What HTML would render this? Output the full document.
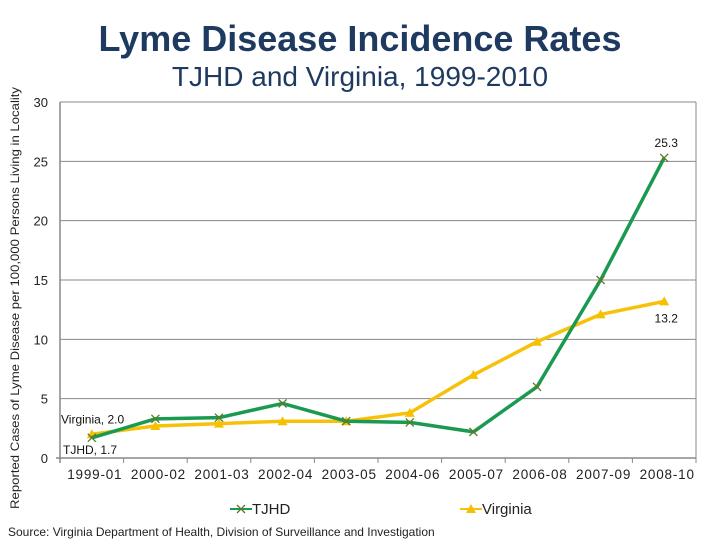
<!DOCTYPE html>
<html><head><meta charset="utf-8"><style>
body{margin:0;background:#fff;width:720px;height:540px;overflow:hidden}
text{font-family:"Liberation Sans",sans-serif}
</style></head><body>
<svg id="chart" width="720" height="540" xmlns="http://www.w3.org/2000/svg">
<text x="360" y="51" text-anchor="middle" font-size="36" font-weight="bold" fill="#1f3a60">Lyme Disease Incidence Rates</text>
<text x="360" y="86" text-anchor="middle" font-size="28" fill="#1f3a60">TJHD and Virginia, 1999-2010</text>
<text transform="translate(19,298) rotate(-90)" text-anchor="middle" font-size="12" textLength="422" lengthAdjust="spacingAndGlyphs" fill="#222">Reported Cases of Lyme Disease per 100,000 Persons Living in Locality</text>
<text x="8" y="536" font-size="12" fill="#222">Source: Virginia Department of Health, Division of Surveillance and Investigation</text>
<g id="grid"></g><g id="axes"></g><g id="series"></g><g id="legend"></g>
</svg>
<script>
const categories=["1999-01","2000-02","2001-03","2002-04","2003-05","2004-06","2005-07","2006-08","2007-09","2008-10"];
const tjhd=[1.7,3.3,3.4,4.6,3.1,3.0,2.2,6.0,15.0,25.3];
const virginia=[2.0,2.7,2.9,3.1,3.1,3.8,7.0,9.8,12.1,13.2];
const yTicks=[0,5,10,15,20,25,30];
const NS="http://www.w3.org/2000/svg";
const L=60,R=696,T=102,B=458,yMax=30;
const cw=(R-L)/categories.length;
const xs=i=>L+cw*(i+0.5);
const ys=v=>B-(v/yMax)*(B-T);
function mk(tag,attrs,parent){const e=document.createElementNS(NS,tag);for(const k in attrs)e.setAttribute(k,attrs[k]);document.getElementById(parent).appendChild(e);return e;}
yTicks.forEach(t=>{
 const g=mk('line',{x1:L,x2:R,y1:ys(t),y2:ys(t),stroke:'#888','stroke-width':1},'grid');
 
 
 const lb=mk('text',{x:L-12,y:ys(t)+5,'text-anchor':'end','font-size':13,fill:'#222'},'axes');lb.textContent=t;
 
 
});
mk('line',{x1:R,x2:R,y1:T,y2:B,stroke:'#888'},'grid');
const ya=mk('line',{x1:L,x2:L,y1:T,y2:B+5,stroke:'#888','stroke-width':1.5},'axes');


const xa=mk('line',{x1:L-4,x2:R,y1:B,y2:B,stroke:'#888','stroke-width':1.5},'axes');


categories.forEach((c,i)=>{
 mk('line',{x1:L+cw*(i+1),x2:L+cw*(i+1),y1:B,y2:B+5,stroke:'#888'},'axes');
 const lb=mk('text',{x:xs(i)+3,y:B+21,'text-anchor':'middle','font-size':13.5,'letter-spacing':'0.8',fill:'#222'},'axes');lb.textContent=c;
 
 
});
function series(vals,color,marker,name){
 const p=mk('polyline',{points:vals.map((v,i)=>xs(i)+','+ys(v)).join(' '),fill:'none',stroke:color,'stroke-width':3.5,'stroke-linejoin':'round'},'series');
 
 
 vals.forEach((v,i)=>drawMarker(xs(i),ys(v),marker,'series',name));
}
function drawMarker(x,y,m,parent,name){
 let e;
 if(m==='x'){e=mk('path',{d:`M${x-4},${y-4}L${x+4},${y+4}M${x-4},${y+4}L${x+4},${y-4}`,stroke:'#5a7a2a','stroke-width':1.3,fill:'none'},parent);}
 else{e=mk('path',{d:`M${x},${y-5}L${x+5},${y+4}L${x-5},${y+4}Z`,fill:'#f5c000'},parent);}
 
 
}
series(virginia,'#f7c10a','t','virginia');
series(tjhd,'#1a9a50','x','tjhd');
function lab(txt,x,y,anchor){const t=mk('text',{x:x,y:y,'text-anchor':anchor,'font-size':12,fill:'#111'},'series');t.textContent=txt;
 
 }
lab('Virginia, '+virginia[0].toFixed(1),61,ys(virginia[0])-11,'start');
lab('TJHD, '+tjhd[0],63,ys(tjhd[0])+16,'start');
lab(tjhd[9].toFixed(1),xs(9)+2,ys(tjhd[9])-11,'middle');
lab(virginia[9].toFixed(1),xs(9)+2,ys(virginia[9])+21,'middle');
function leg(x,color,m,txt,name){
 const l=mk('line',{x1:x,x2:x+22,y1:509,y2:509,stroke:color,'stroke-width':2},'legend');
 
 
 drawMarker(x+11,509,m,'legend',name+'-legend');
 const t=mk('text',{x:x+22,y:514,'font-size':15,fill:'#222'},'legend');t.textContent=txt;
 
 
}
leg(230,'#1a9a50','x','TJHD','tjhd');
leg(460,'#f7c10a','t','Virginia','virginia');
</script>
</body></html>
